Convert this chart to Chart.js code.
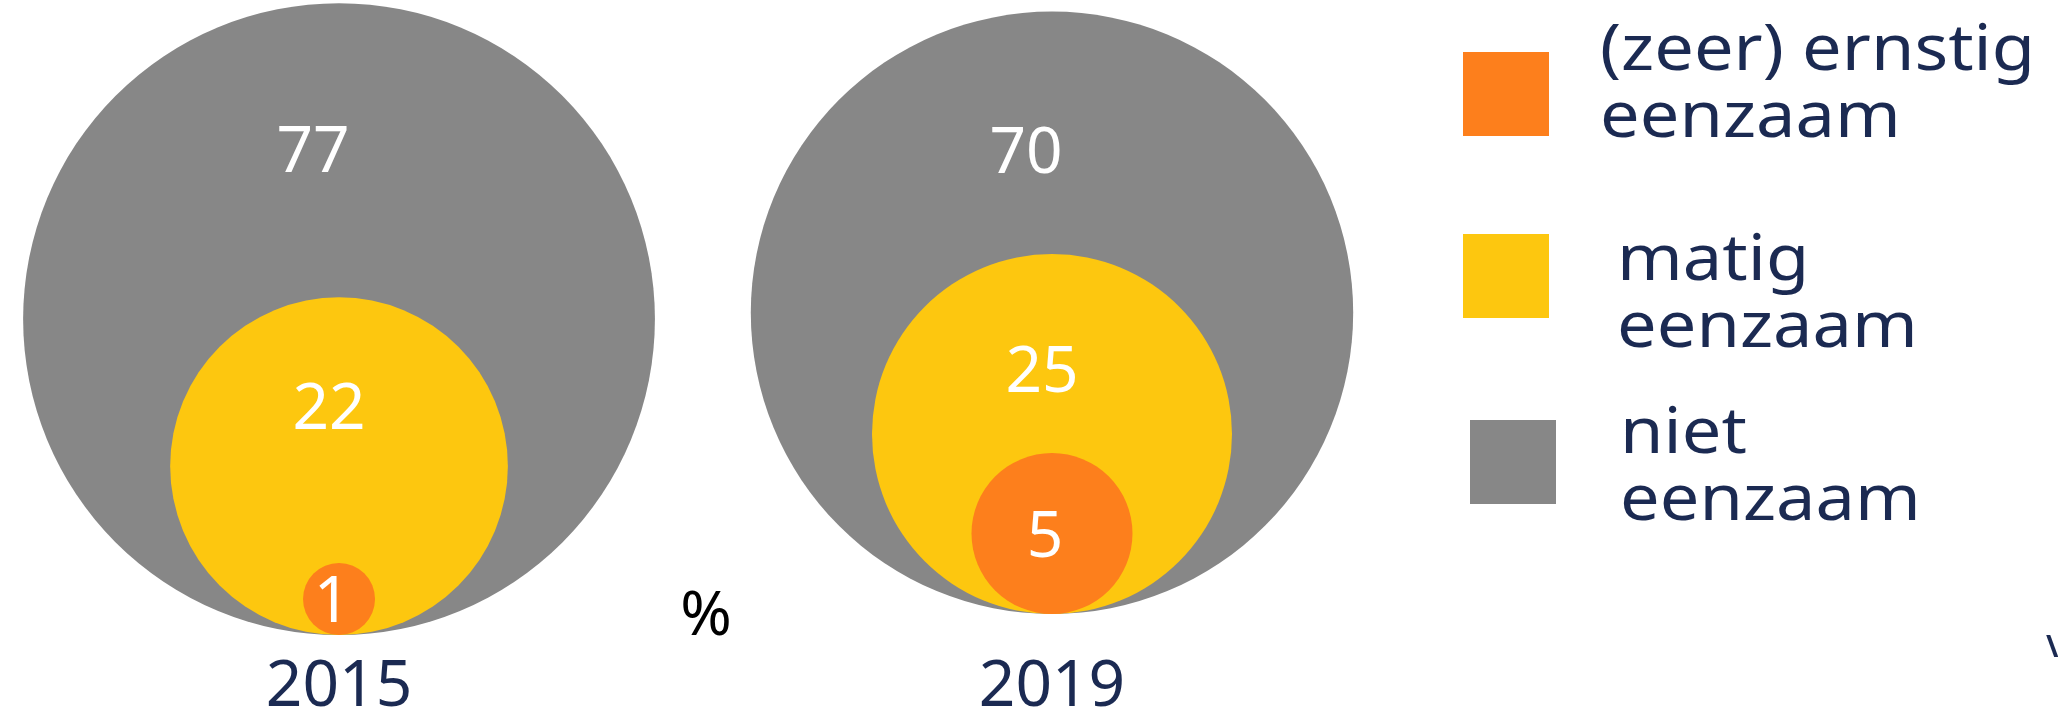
<!DOCTYPE html>
<html lang="nl">
<head>
<meta charset="utf-8">
<title>Eenzaamheid 2015 en 2019</title>
<script src="https://cdn.jsdelivr.net/npm/chart.js@4.4.1/dist/chart.umd.min.js"></script>
<style>
    html, body { margin: 0; padding: 0; background: #fff; }
    #wrap { width: 2058px; height: 718px; }
</style>
</head>
<body>
<div id="wrap"><canvas id="bubbleChart" width="2058" height="718"></canvas></div>
<script>
// values in %, one entry per year
const years = [2015, 2019];
const categories = [['(zeer) ernstig', 'eenzaam'], ['matig', 'eenzaam'], ['niet', 'eenzaam']];
const ernstigEenzaam = [1, 5];
const matigEenzaam = [22, 25];
const nietEenzaam = [77, 70];
const unitLabel = '%';

const colors = ['#fd7f1c', '#fdc70f', '#878787'];
const navy = '#1b2a52';
const fontFamily = "'Noto Sans', sans-serif";

// circle area follows the value: sqrt(value) units, pxPerUnit pixels each
const pxPerUnit = 36;
const plotHeight = 635;   // canvas height minus the year axis

// where the value sits inside each circle (fraction of radius from the top)
const labelPos = [
    { dx: -7, f: 1.0 },
    { dx: -10, f: 0.64 },
    { dx: -26, f: 0.46 }
];

// legend boxes and text
const legendLayout = [
    { box: [1463, 52], text: [1600, 70] },
    { box: [1463, 234], text: [1617, 280] },
    { box: [1470, 420], text: [1620, 453] }
];

function point(year, v, cat) {
    // centre sits one radius above the baseline, so all circles touch it
    return { x: year, y: Math.sqrt(v), r: pxPerUnit * Math.sqrt(v), v: v, cat: cat };
}

function yearPoints(i) {
    // biggest first so the smaller circles are drawn on top
    return [
        point(years[i], nietEenzaam[i], 2),
        point(years[i], matigEenzaam[i], 1),
        point(years[i], ernstigEenzaam[i], 0)
    ];
}

const valueLabels = {
    id: 'valueLabels',
    afterDatasetsDraw(chart) {
        const ctx = chart.ctx;
        ctx.save();
        ctx.fillStyle = '#fff';
        ctx.font = '64px ' + fontFamily;
        ctx.textAlign = 'center';
        ctx.textBaseline = 'middle';
        chart.data.datasets.forEach(function(ds, i) {
            chart.getDatasetMeta(i).data.forEach(function(el, j) {
                const p = ds.data[j];
                const r = el.options.radius;
                const pos = labelPos[p.cat];
                ctx.fillText(String(p.v), el.x + pos.dx, el.y - r + r * pos.f + 5);
            });
        });

        // unit between the two years
        ctx.fillStyle = '#000';
        ctx.font = '62px ' + fontFamily;
        ctx.fillText(unitLabel, 706, 617);
        ctx.restore();
    }
};

const boxLegend = {
    id: 'boxLegend',
    afterDraw(chart) {
        const ctx = chart.ctx;
        ctx.save();
        ctx.textAlign = 'left';
        ctx.textBaseline = 'alphabetic';
        categories.forEach(function(lines, i) {
            const l = legendLayout[i];
            ctx.fillStyle = colors[i];
            ctx.fillRect(l.box[0], l.box[1], 86, 84);
            ctx.fillStyle = navy;
            ctx.font = '64px ' + fontFamily;
            lines.forEach(function(line, k) {
                // slightly wider lettering, like the original typeface
                ctx.save();
                ctx.translate(l.text[0], l.text[1] + k * 67);
                ctx.scale(1.1, 1);
                ctx.fillText(line, 0, 0);
                ctx.restore();
            });
        });
        // cut-off glyph at the right edge
        ctx.font = 'bold 30px ' + fontFamily;
        ctx.fillText('\\', 2046, 657);
        ctx.restore();
    }
};

document.addEventListener('DOMContentLoaded', function() {
    const ctx = document.getElementById('bubbleChart').getContext('2d');

    new Chart(ctx, {
        type: 'bubble',
        data: {
            datasets: years.map(function(year, i) {
                return {
                    label: String(year),
                    yAxisID: i === 0 ? 'y' : 'y2',
                    data: yearPoints(i),
                    backgroundColor: [colors[2], colors[1], colors[0]],
                    borderWidth: 0,
                    hoverBorderWidth: 0,
                    clip: false
                };
            })
        },
        options: {
            responsive: false,
            animation: false,
            events: [],
            // no extra room for the big bubbles, the plot fills the canvas
            layout: { padding: 0, autoPadding: false },
            plugins: {
                legend: { display: false },
                tooltip: { enabled: false }
            },
            scales: {
                x: {
                    type: 'linear',
                    min: 2013.098,
                    max: 2024.644,
                    grid: { display: false, drawTicks: false },
                    border: { display: false },
                    afterBuildTicks: function(axis) {
                        axis.ticks = years.map(function(v) { return { value: v }; });
                    },
                    afterFit: function(axis) {
                        axis.height = 718 - plotHeight;
                    },
                    ticks: {
                        padding: 14,
                        color: navy,
                        font: { family: fontFamily, size: 64 },
                        callback: function(value) { return String(value); }
                    }
                },
                // 2019 circles sit a little higher than 2015
                y: {
                    display: false,
                    min: 0,
                    max: plotHeight / pxPerUnit
                },
                y2: {
                    display: false,
                    min: -21 / pxPerUnit,
                    max: (plotHeight - 21) / pxPerUnit
                }
            }
        },
        plugins: [valueLabels, boxLegend]
    });
});
</script>
</body>
</html>
